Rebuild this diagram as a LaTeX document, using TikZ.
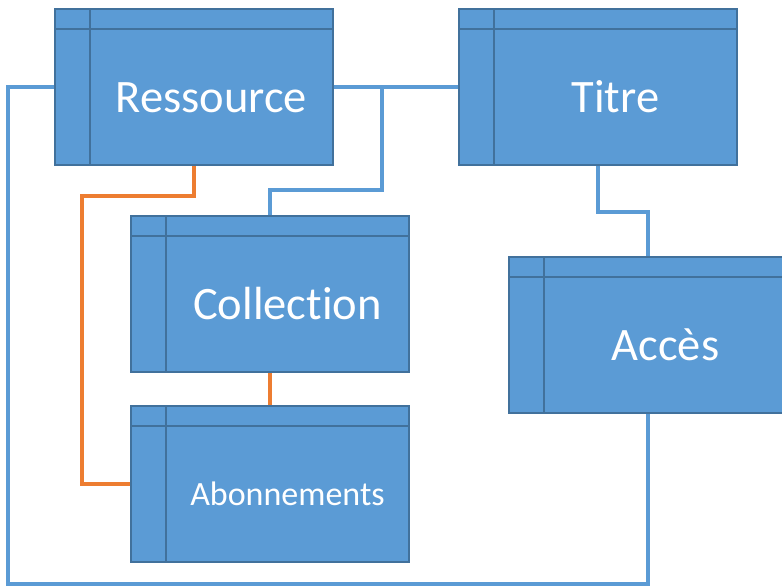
\documentclass[tikz,border=0pt]{standalone}
\usepackage{fontspec}
\setmainfont{Carlito}[Ligatures=NoCommon]
\definecolor{boxfill}{HTML}{5B9BD5}
\definecolor{boxedge}{HTML}{41719C}
\definecolor{linkblue}{HTML}{5B9BD5}
\definecolor{linkorange}{HTML}{ED7D31}
\tikzset{
    tablebox/.style={draw=boxedge, line width=2.2pt, fill=boxfill,
        minimum width=278pt, minimum height=156pt, inner sep=0pt,
        path picture={
            \draw[boxedge, line width=2.2pt]
                ([xshift=35pt]path picture bounding box.north west) --
                ([xshift=35pt]path picture bounding box.south west);
            \draw[boxedge, line width=2.2pt]
                ([yshift=-20pt]path picture bounding box.north west) --
                ([yshift=-20pt]path picture bounding box.north east);
        }},
    bigname/.style={text=white, inner sep=0pt, xshift=17.5pt, yshift=-10pt,
        font=\fontsize{46.5}{50}\selectfont, text height=30pt, text depth=0pt},
    smallname/.style={bigname, font=\fontsize{34}{38}\selectfont,
        text height=22pt},
    bluelink/.style={draw=linkblue, line width=3.5pt},
    orangelink/.style={draw=linkorange, line width=3.5pt}
}
\begin{document}
\begin{tikzpicture}[x=1pt, y=-1pt]
    \useasboundingbox (0,0) rectangle (782,586);

    % Tables
    \node[tablebox, label={[bigname]center:Ressource}] (res) at (194,87) {};
    \node[tablebox, label={[bigname]center:Titre}] (tit) at (598,87) {};
    \node[tablebox, label={[bigname]center:Collection}] (col) at (270,294) {};
    \node[tablebox, label={[bigname]center:Accès}] (acc) at (648,335) {};
    \node[tablebox, label={[smallname]center:Abonnements}] (abo) at (270,484) {};

    % Blue links
    \coordinate (jct) at (382,87);
    \draw[bluelink] (res.east) -- (tit.west);
    \draw[bluelink] (jct) -- ++(0,103) -| (col.north);
    \draw[bluelink] (tit.south) -- ++(0,46) -| (acc.north);
    \draw[bluelink] (res.west) -| (8,584) -| (acc.south);

    % Orange links
    \draw[orangelink] (res.south) -- ++(0,30) -| ([xshift=-48pt]abo.west) -- (abo.west);
    \draw[orangelink] (col.south) -- (abo.north);
\end{tikzpicture}
\end{document}
